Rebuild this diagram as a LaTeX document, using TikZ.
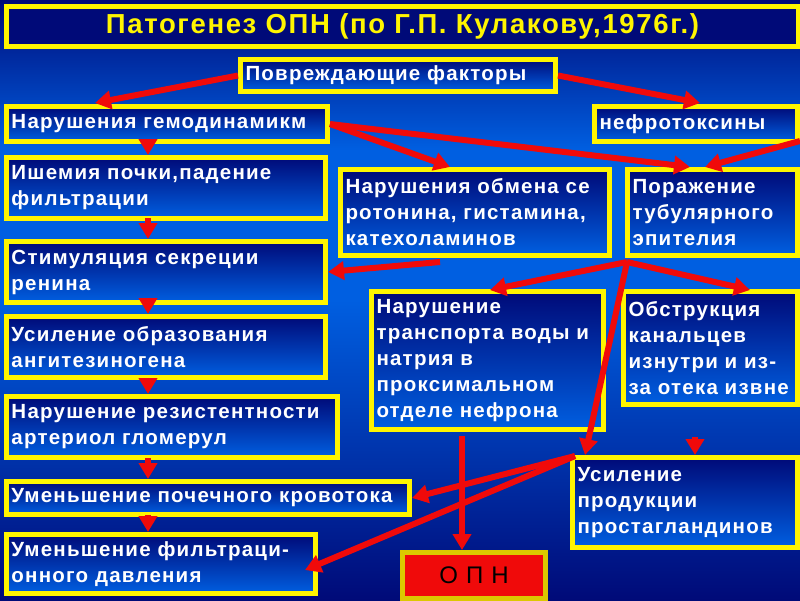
\documentclass[tikz,border=0pt]{standalone}
\usepackage{fontspec}
\setmainfont[LetterSpace=6]{Liberation Sans}
\usetikzlibrary{arrows.meta}
\definecolor{navy}{RGB}{0,10,120}
\definecolor{midblue}{RGB}{0,95,225}
\definecolor{boxyellow}{RGB}{255,245,0}
\definecolor{arrred}{RGB}{240,10,10}
\tikzset{every picture/.style={line width=0.75pt}}
\tikzset{
  box/.style 2 args={draw=boxyellow, line width=5, top color=navy, bottom color=midblue,
    text=white, font=\fontsize{20.5}{26}\selectfont\bfseries, align=left, anchor=north west,
    inner xsep=5, inner ysep=3, text width=#1, minimum height=#2},
  arr/.style={draw=arrred, line width=6, -{Triangle[length=16,width=18]}},
}
\begin{document}
\begin{tikzpicture}[x=1pt,y=1pt,yscale=-1]
\useasboundingbox (0,0) rectangle (800,600);
%Background
\shade[top color=navy, bottom color=midblue, middle color=midblue] (0,0) rectangle (800,300);
\shade[top color=midblue, bottom color=navy] (0,300) rectangle (800,600);

%Title
\node[draw=boxyellow, line width=5, fill=navy, text=boxyellow, font=\fontsize{27.5}{30}\selectfont\bfseries,
  minimum width=792, minimum height=40, inner ysep=2, anchor=north west] (title) at (4,4) {Патогенез ОПН (по Г.П. Кулакову,1976г.)};

%Boxes
\node[box={305}{32}] (factors) at (238,57) {Повреждающие факторы};
\node[box={311}{35}] (hemo) at (4,104) {Нарушения гемодинамикм};
\node[box={193}{35}] (nephro) at (592,104) {нефротоксины};
\node[box={309}{61}] (ischem) at (4,155) {Ишемия почки,падение\\фильтрации};
\node[box={259}{86}] (exchange) at (338,167) {Нарушения обмена се\\ротонина, гистамина,\\катехоламинов};
\node[box={160}{86}] (tubul) at (625,167) {Поражение\\тубулярного\\эпителия};
\node[box={309}{61}] (renin) at (4,239) {Стимуляция секреции\\ренина};
\node[box={222}{138}] (transport) at (369,289) {Нарушение\\транспорта воды и\\натрия в\\проксимальном\\отделе нефрона};
\node[box={164}{113}] (obstr) at (621,289) {Обструкция\\канальцев\\изнутри и из-\\за отека извне};
\node[box={309}{61}] (angio) at (4,314) {Усиление образования\\ангитезиногена};
\node[box={321}{61}] (resist) at (4,394) {Нарушение резистентности\\артериол гломерул};
\node[box={393}{33}] (flow) at (4,479) {Уменьшение почечного кровотока};
\node[box={215}{90}] (prost) at (570,455) {Усиление\\продукции\\простагландинов};
\node[box={299}{59}] (filtr) at (4,532) {Уменьшение фильтраци-\\онного давления};
\node[draw={rgb,255:red,220;green,200;blue,0}, line width=5, fill=arrred, text=black,
  font=\fontsize{24}{26}\selectfont, minimum width=143, minimum height=46, anchor=north west] (opn) at (400,550) {О\,\,П\,\,Н};

%Arrows
\coordinate (edge) at (800,141);
\draw[arr] (factors.west) -- (95,103);
\draw[arr] (factors.east) -- (700,103);
\draw[arr] (hemo.east) -- (450,167);
\draw[arr] (hemo.east) -- (690,167);
\draw[arr] (edge) -- (705,167);
\draw[arr] (148,142) -- (148,155);
\draw[arr] (148,218) -- (148,239);
\draw[arr] (148,302) -- (148,314);
\draw[arr] (148,378) -- (148,394);
\draw[arr] (148,458) -- (148,479);
\draw[arr] (148,515) -- (148,532);
\draw[arr] (440,262) -- (renin.east);
\draw[arr] (627,262) -- (490,290);
\draw[arr] (627,262) -- (750,290);
\draw[arr] (627,262) -- (585,455);
\draw[arr] (462,436) -- (462,550);
\draw[arr] (575,456) -- (flow.east);
\draw[arr] (575,456) -- (305,570);
\draw[arr] (695,437) -- (695,455);
\end{tikzpicture}
\end{document}
